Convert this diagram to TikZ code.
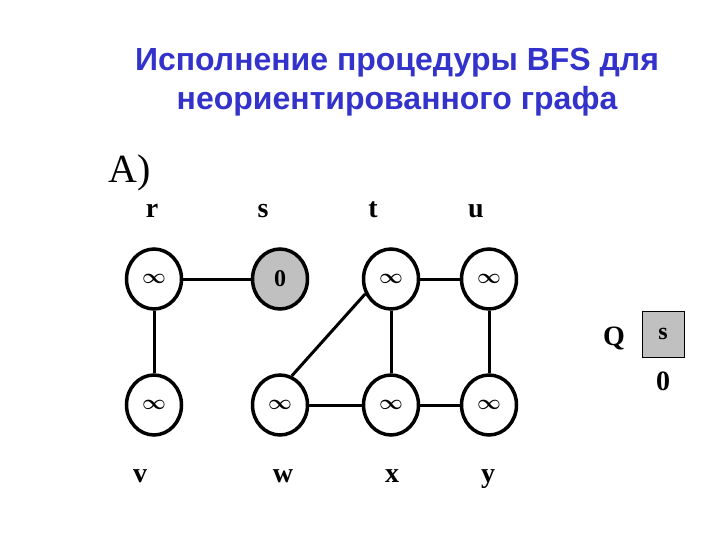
\documentclass[tikz,border=0pt]{standalone}
\usepackage{bm}
\usepackage{fontspec}
\setmainfont{Liberation Serif}
\newfontfamily\titlefont{Liberation Sans}
\usetikzlibrary{shapes.geometric}
\definecolor{titleblue}{RGB}{51,51,204}
\definecolor{qgray}{RGB}{192,192,192}
\newcommand{\notreached}{$\bm{\infty}$}

\begin{document}
\begin{tikzpicture}[x=1pt,y=-1pt,
  vertex/.style={ellipse,draw,line width=3.5pt,minimum width=55pt,minimum height=60pt,inner sep=0pt,
    font=\fontsize{20}{20}\selectfont\bfseries},
  seen/.style={vertex,fill=qgray,font=\fontsize{24}{24}\selectfont\bfseries},
  lbl/.style={font=\fontsize{28}{28}\selectfont\bfseries,anchor=base},
  heading/.style={font=\titlefont\fontsize{32}{32}\selectfont\bfseries,text=titleblue,anchor=base},
  edge/.style={line width=3pt}]
\useasboundingbox (0,0) rectangle (720,540);
\node[heading] (title1) at (397,71) {Исполнение процедуры BFS для};
\node[heading] (title2) at (397,110) {неориентированного графа};
\node[font=\fontsize{40}{40}\selectfont,anchor=base west,inner sep=0pt] (part) at (108,183) {A)};
% vertices
\node[vertex] (r) at (154,279) {\notreached};
\node[seen]   (s) at (280,279) {0};
\node[vertex] (t) at (391,279) {\notreached};
\node[vertex] (u) at (489,279) {\notreached};
\node[vertex] (v) at (154,405) {\notreached};
\node[vertex] (w) at (280,405) {\notreached};
\node[vertex] (x) at (391,405) {\notreached};
\node[vertex] (y) at (489,405) {\notreached};
% names
\node[lbl] (rname) at (152,218) {r};
\node[lbl] (sname) at (263,218) {s};
\node[lbl] (tname) at (373,218) {t};
\node[lbl] (uname) at (476,218) {u};
\node[lbl] (vname) at (140,482) {v};
\node[lbl] (wname) at (283,482) {w};
\node[lbl] (xname) at (392,482) {x};
\node[lbl] (yname) at (488,482) {y};
% edges
\draw[edge] (r) -- (s);
\draw[edge] (t) -- (u);
\draw[edge] (r) -- (v);
\draw[edge] (t) -- (x);
\draw[edge] (u) -- (y);
\draw[edge] (w) -- (x);
\draw[edge] (x) -- (y);
\draw[edge] (t.210) -- (w.68);
% queue
\node[lbl] (qname) at (614,345) {Q};
\node[draw,line width=1pt,fill=qgray,minimum width=42pt,minimum height=46pt,inner sep=0pt,
  font=\fontsize{24}{24}\selectfont\bfseries] (q1) at (663,334) {s};
\node[lbl] (d1) at (663,390) {0};
\end{tikzpicture}
\end{document}
